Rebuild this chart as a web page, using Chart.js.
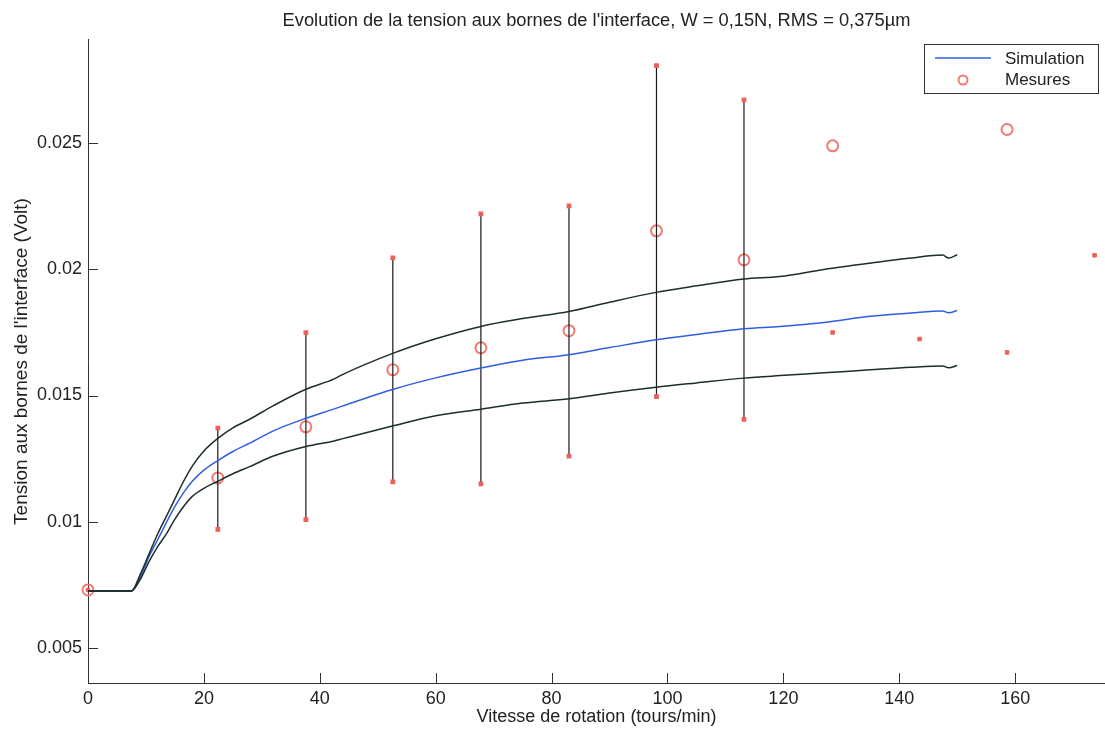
<!DOCTYPE html>
<html>
<head>
<meta charset="utf-8">
<script src="https://cdn.jsdelivr.net/npm/chart.js@4"></script>
<style>
  body { margin: 0; background: #fff; }
  canvas { display: block; }
</style>
</head>
<body>
<canvas id="chart" width="1105" height="731"></canvas>
<script>
// courbes de simulation (moyenne + enveloppe haute / basse)
const simX    = [0, 7.5, 9, 10.5, 12, 13.5, 15, 16.5, 18, 20, 22.4, 25, 27.9, 32, 37.6, 42.5, 44, 52.7, 60, 67.8, 75, 83, 90, 98, 105, 113.2, 119.4, 127, 135, 142, 147.5, 148.5, 150];
const simY    = [0.00725, 0.00725, 0.0078, 0.0086, 0.00927, 0.00995, 0.0106, 0.01115, 0.0116, 0.01204, 0.01242, 0.01278, 0.01311, 0.0136, 0.0141, 0.01447, 0.01459, 0.01525, 0.0157, 0.01609, 0.0164, 0.01662, 0.0169, 0.01721, 0.01742, 0.01765, 0.01774, 0.0179, 0.01814, 0.01827, 0.01835, 0.01828, 0.01837];
const simHaut = [0.00725, 0.00725, 0.0079, 0.0087, 0.0095, 0.0102, 0.0109, 0.0116, 0.0122, 0.0128, 0.0133, 0.01372, 0.01406, 0.0146, 0.01525, 0.01566, 0.01584, 0.01668, 0.01725, 0.01774, 0.01805, 0.01833, 0.0187, 0.01909, 0.01935, 0.01962, 0.01972, 0.02, 0.02025, 0.02045, 0.02057, 0.02045, 0.02058];
const simBas  = [0.00725, 0.00725, 0.0077, 0.0084, 0.009, 0.0095, 0.0101, 0.0106, 0.011, 0.01132, 0.0116, 0.0119, 0.01218, 0.0126, 0.01298, 0.0132, 0.01329, 0.0138, 0.0142, 0.01446, 0.0147, 0.01487, 0.0151, 0.01533, 0.0155, 0.01569, 0.01579, 0.0159, 0.01602, 0.01612, 0.01617, 0.0161, 0.01619];

// mesures
const mesX = [0, 22.4, 37.6, 52.6, 67.8, 83, 98.1, 113.2, 128.5, 158.6];
const mesY = [0.00729, 0.01173, 0.01376, 0.01602, 0.01689, 0.01757, 0.02153, 0.02038, 0.0249, 0.02555];

// barres d'erreur
const errX    = [22.4, 37.6, 52.6, 67.8, 83, 98.1, 113.2];
const errBas  = [0.00969, 0.01008, 0.01158, 0.0115, 0.0126, 0.01496, 0.01405];
const errHaut = [0.01371, 0.01749, 0.02046, 0.0222, 0.02252, 0.02808, 0.02672];

// points isolés (étoiles)
const etoileX = [0, 128.5, 143.5, 158.6, 173.7];
const etoileY = [0.00729, 0.0175, 0.01724, 0.01671, 0.02056];

const xTicks = [0, 20, 40, 60, 80, 100, 120, 140, 160];
const yTicks = [0.005, 0.01, 0.015, 0.02, 0.025];

const police = "'Liberation Sans', Arial, sans-serif";
const couleurTexte = "#222";
const rouge = "#ee5f58";

function pts(xs, ys) {
    return xs.map((x, i) => ({ x: x, y: ys[i] }));
}

const datasets = [];
datasets.push({ label: "haut", data: pts(simX, simHaut), showLine: true, borderColor: "#1d2d2d", borderWidth: 1.5, pointRadius: 0, cubicInterpolationMode: "monotone" });
datasets.push({ label: "bas", data: pts(simX, simBas), showLine: true, borderColor: "#1d2d2d", borderWidth: 1.5, pointRadius: 0, cubicInterpolationMode: "monotone" });
datasets.push({ label: "Simulation", data: pts(simX, simY), showLine: true, borderColor: "#2f5fe0", borderWidth: 1.5, pointRadius: 0, cubicInterpolationMode: "monotone" });

errX.forEach((x, i) => {
    datasets.push({
        label: "err" + i,
        data: [{ x: x, y: errBas[i] }, { x: x, y: errHaut[i] }],
        showLine: true,
        borderColor: "#1a1a1a",
        borderWidth: 1.2,
        pointStyle: "rect",
        pointRadius: 2.5,
        pointBackgroundColor: rouge,
        pointBorderColor: rouge
    });
});

datasets.push({ label: "etoiles", data: pts(etoileX, etoileY), showLine: false, clip: false, pointStyle: "rect", pointRadius: 2.5, pointBackgroundColor: rouge, pointBorderColor: rouge });
datasets.push({ label: "Mesures", data: pts(mesX, mesY), showLine: false, clip: false, pointStyle: "circle", pointRadius: 5.5, pointBorderWidth: 2, pointBorderColor: "#f07a72", pointBackgroundColor: "rgba(0,0,0,0)" });

// graduations vers l'intérieur + légende dans le cadre
const decor = {
    id: "decor",
    afterDraw(chart) {
        const ctx = chart.ctx;
        const xs = chart.scales.x, ys = chart.scales.y;
        const area = chart.chartArea;
        ctx.save();
        ctx.strokeStyle = "#333";
        ctx.lineWidth = 1;
        xTicks.forEach(v => {
            const px = Math.round(xs.getPixelForValue(v)) + 0.5;
            ctx.beginPath();
            ctx.moveTo(px, area.bottom);
            ctx.lineTo(px, area.bottom - 10);
            ctx.stroke();
        });
        yTicks.forEach(v => {
            const py = Math.round(ys.getPixelForValue(v)) + 0.5;
            ctx.beginPath();
            ctx.moveTo(area.left, py);
            ctx.lineTo(area.left + 10, py);
            ctx.stroke();
        });

        // légende
        ctx.fillStyle = "#fff";
        ctx.fillRect(924.5, 44.5, 174, 49);
        ctx.strokeStyle = "#333";
        ctx.strokeRect(924.5, 44.5, 174, 49);
        ctx.strokeStyle = "#2f5fe0";
        ctx.lineWidth = 1.5;
        ctx.beginPath();
        ctx.moveTo(935, 58);
        ctx.lineTo(991, 58);
        ctx.stroke();
        ctx.strokeStyle = "#f07a72";
        ctx.lineWidth = 2;
        ctx.beginPath();
        ctx.arc(963, 80, 4.5, 0, Math.PI * 2);
        ctx.stroke();
        ctx.fillStyle = couleurTexte;
        ctx.font = "17px " + police;
        ctx.textBaseline = "middle";
        ctx.fillText("Simulation", 1005, 59);
        ctx.fillText("Mesures", 1005, 80);
        ctx.restore();
    }
};

new Chart(document.getElementById("chart").getContext("2d"), {
    type: "scatter",
    data: { datasets: datasets },
    options: {
        responsive: false,
        animation: false,
        layout: { padding: 0, autoPadding: false },
        plugins: {
            legend: { display: false },
            tooltip: { enabled: false },
            title: {
                display: true,
                text: "Evolution de la tension aux bornes de l'interface, W = 0,15N, RMS = 0,375µm",
                fullSize: false,
                color: couleurTexte,
                font: { family: police, size: 18.3, weight: "normal" },
                padding: { top: 10, bottom: 8 }
            }
        },
        scales: {
            x: {
                type: "linear",
                min: 0,
                max: 175.5,
                afterBuildTicks: axis => { axis.ticks = xTicks.map(v => ({ value: v })); },
                afterFit: scale => { scale.height = 48; scale.paddingRight = 0; },
                grid: { display: false, drawTicks: false },
                border: { display: true, color: "#333", width: 1 },
                ticks: { color: couleurTexte, font: { family: police, size: 18, lineHeight: 1.8 }, padding: 0, maxRotation: 0 },
                title: {
                    display: true,
                    text: "Vitesse de rotation (tours/min)",
                    color: couleurTexte,
                    font: { family: police, size: 18 },
                    padding: { top: 0, bottom: 3 }
                }
            },
            y: {
                type: "linear",
                min: 0.0036,
                max: 0.0291,
                afterBuildTicks: axis => { axis.ticks = yTicks.map(v => ({ value: v })); },
                afterFit: scale => { scale.width = 88; },
                grid: { display: false, drawTicks: false },
                border: { display: true, color: "#333", width: 1 },
                ticks: {
                    color: couleurTexte,
                    font: { family: police, size: 18 },
                    padding: 6,
                    callback: v => String(Number(v.toFixed(3)))
                },
                title: {
                    display: true,
                    text: "Tension aux bornes de l'interface (Volt)",
                    color: couleurTexte,
                    font: { family: police, size: 19 },
                    padding: { top: 10, bottom: 0 }
                }
            }
        }
    },
    plugins: [decor]
});
</script>
</body>
</html>
